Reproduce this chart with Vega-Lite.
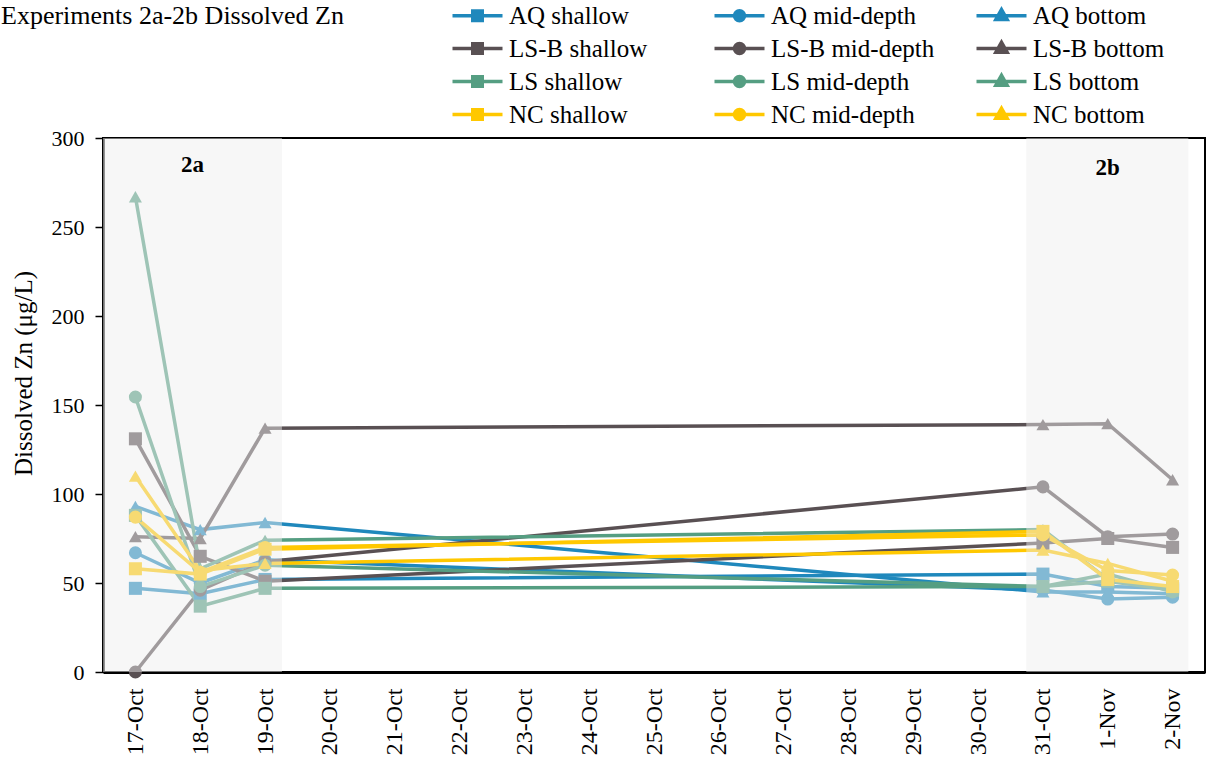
{
  "$schema": "https://vega.github.io/schema/vega-lite/v6.json",
  "width": 1102,
  "height": 534,
  "autosize": {"type": "none"},
  "padding": {"left": 103, "top": 138, "right": 4, "bottom": 95},
  "background": "white",
  "title": {
    "text": "Experiments 2a-2b Dissolved Zn",
    "anchor": "start",
    "frame": "group",
    "font": "Liberation Serif",
    "fontSize": 26,
    "fontWeight": "normal",
    "color": "#000",
    "dx": -102,
    "dy": 32
  },
  "config": {
    "font": "Liberation Serif",
    "view": {"stroke": "#000", "strokeWidth": 2}
  },
  "datasets": {
    "zn": [
      {"date": "2019-10-17", "series": "AQ shallow", "depth": "shallow", "value": 47},
      {"date": "2019-10-18", "series": "AQ shallow", "depth": "shallow", "value": 44},
      {"date": "2019-10-19", "series": "AQ shallow", "depth": "shallow", "value": 52},
      {"date": "2019-10-31", "series": "AQ shallow", "depth": "shallow", "value": 55},
      {"date": "2019-11-01", "series": "AQ shallow", "depth": "shallow", "value": 48},
      {"date": "2019-11-02", "series": "AQ shallow", "depth": "shallow", "value": 47},
      {"date": "2019-10-17", "series": "AQ mid-depth", "depth": "mid-depth", "value": 67},
      {"date": "2019-10-18", "series": "AQ mid-depth", "depth": "mid-depth", "value": 50},
      {"date": "2019-10-19", "series": "AQ mid-depth", "depth": "mid-depth", "value": 63},
      {"date": "2019-10-31", "series": "AQ mid-depth", "depth": "mid-depth", "value": 46},
      {"date": "2019-11-01", "series": "AQ mid-depth", "depth": "mid-depth", "value": 41},
      {"date": "2019-11-02", "series": "AQ mid-depth", "depth": "mid-depth", "value": 42},
      {"date": "2019-10-17", "series": "AQ bottom", "depth": "bottom", "value": 93},
      {"date": "2019-10-18", "series": "AQ bottom", "depth": "bottom", "value": 80},
      {"date": "2019-10-19", "series": "AQ bottom", "depth": "bottom", "value": 84},
      {"date": "2019-10-31", "series": "AQ bottom", "depth": "bottom", "value": 45},
      {"date": "2019-11-01", "series": "AQ bottom", "depth": "bottom", "value": 45},
      {"date": "2019-11-02", "series": "AQ bottom", "depth": "bottom", "value": 44},
      {"date": "2019-10-17", "series": "LS-B shallow", "depth": "shallow", "value": 131},
      {"date": "2019-10-18", "series": "LS-B shallow", "depth": "shallow", "value": 65},
      {"date": "2019-10-19", "series": "LS-B shallow", "depth": "shallow", "value": 51},
      {"date": "2019-10-31", "series": "LS-B shallow", "depth": "shallow", "value": 72.5},
      {"date": "2019-11-01", "series": "LS-B shallow", "depth": "shallow", "value": 75},
      {"date": "2019-11-02", "series": "LS-B shallow", "depth": "shallow", "value": 70},
      {"date": "2019-10-17", "series": "LS-B mid-depth", "depth": "mid-depth", "value": 0},
      {"date": "2019-10-18", "series": "LS-B mid-depth", "depth": "mid-depth", "value": 46},
      {"date": "2019-10-19", "series": "LS-B mid-depth", "depth": "mid-depth", "value": 62},
      {"date": "2019-10-31", "series": "LS-B mid-depth", "depth": "mid-depth", "value": 104},
      {"date": "2019-11-01", "series": "LS-B mid-depth", "depth": "mid-depth", "value": 76},
      {"date": "2019-11-02", "series": "LS-B mid-depth", "depth": "mid-depth", "value": 77.5},
      {"date": "2019-10-17", "series": "LS-B bottom", "depth": "bottom", "value": 76},
      {"date": "2019-10-18", "series": "LS-B bottom", "depth": "bottom", "value": 75},
      {"date": "2019-10-19", "series": "LS-B bottom", "depth": "bottom", "value": 137},
      {"date": "2019-10-31", "series": "LS-B bottom", "depth": "bottom", "value": 139},
      {"date": "2019-11-01", "series": "LS-B bottom", "depth": "bottom", "value": 139.5},
      {"date": "2019-11-02", "series": "LS-B bottom", "depth": "bottom", "value": 108},
      {"date": "2019-10-17", "series": "LS shallow", "depth": "shallow", "value": 88},
      {"date": "2019-10-18", "series": "LS shallow", "depth": "shallow", "value": 37},
      {"date": "2019-10-19", "series": "LS shallow", "depth": "shallow", "value": 47},
      {"date": "2019-10-31", "series": "LS shallow", "depth": "shallow", "value": 48},
      {"date": "2019-11-01", "series": "LS shallow", "depth": "shallow", "value": 51},
      {"date": "2019-11-02", "series": "LS shallow", "depth": "shallow", "value": 46},
      {"date": "2019-10-17", "series": "LS mid-depth", "depth": "mid-depth", "value": 154.5},
      {"date": "2019-10-18", "series": "LS mid-depth", "depth": "mid-depth", "value": 48},
      {"date": "2019-10-19", "series": "LS mid-depth", "depth": "mid-depth", "value": 60},
      {"date": "2019-10-31", "series": "LS mid-depth", "depth": "mid-depth", "value": 48},
      {"date": "2019-11-01", "series": "LS mid-depth", "depth": "mid-depth", "value": 55},
      {"date": "2019-11-02", "series": "LS mid-depth", "depth": "mid-depth", "value": 45},
      {"date": "2019-10-17", "series": "LS bottom", "depth": "bottom", "value": 267},
      {"date": "2019-10-18", "series": "LS bottom", "depth": "bottom", "value": 58},
      {"date": "2019-10-19", "series": "LS bottom", "depth": "bottom", "value": 74},
      {"date": "2019-10-31", "series": "LS bottom", "depth": "bottom", "value": 80},
      {"date": "2019-11-01", "series": "LS bottom", "depth": "bottom", "value": 52},
      {"date": "2019-11-02", "series": "LS bottom", "depth": "bottom", "value": 47},
      {"date": "2019-10-17", "series": "NC shallow", "depth": "shallow", "value": 58},
      {"date": "2019-10-18", "series": "NC shallow", "depth": "shallow", "value": 55},
      {"date": "2019-10-19", "series": "NC shallow", "depth": "shallow", "value": 69},
      {"date": "2019-10-31", "series": "NC shallow", "depth": "shallow", "value": 79},
      {"date": "2019-11-01", "series": "NC shallow", "depth": "shallow", "value": 52},
      {"date": "2019-11-02", "series": "NC shallow", "depth": "shallow", "value": 48},
      {"date": "2019-10-17", "series": "NC mid-depth", "depth": "mid-depth", "value": 87},
      {"date": "2019-10-18", "series": "NC mid-depth", "depth": "mid-depth", "value": 56},
      {"date": "2019-10-19", "series": "NC mid-depth", "depth": "mid-depth", "value": 70},
      {"date": "2019-10-31", "series": "NC mid-depth", "depth": "mid-depth", "value": 77},
      {"date": "2019-11-01", "series": "NC mid-depth", "depth": "mid-depth", "value": 57},
      {"date": "2019-11-02", "series": "NC mid-depth", "depth": "mid-depth", "value": 54.5},
      {"date": "2019-10-17", "series": "NC bottom", "depth": "bottom", "value": 110},
      {"date": "2019-10-18", "series": "NC bottom", "depth": "bottom", "value": 57},
      {"date": "2019-10-19", "series": "NC bottom", "depth": "bottom", "value": 61},
      {"date": "2019-10-31", "series": "NC bottom", "depth": "bottom", "value": 68.5},
      {"date": "2019-11-01", "series": "NC bottom", "depth": "bottom", "value": 61},
      {"date": "2019-11-02", "series": "NC bottom", "depth": "bottom", "value": 51}
    ],
    "phases": [
      {"start": "2019-10-16T12:00:00Z", "end": "2019-10-19T06:15:00Z", "lo": 0, "hi": 300},
      {"start": "2019-10-30T17:50:00Z", "end": "2019-11-02T05:50:00Z", "lo": 0, "hi": 300}
    ],
    "labels": [
      {"date": "2019-10-17T21:08:00Z", "value": 285, "label": "2a"},
      {"date": "2019-11-01T00:00:00Z", "value": 283, "label": "2b"}
    ]
  },
  "encoding": {
    "x": {
      "field": "date",
      "type": "temporal",
      "scale": {
        "type": "utc",
        "domain": [
          {"year": 2019, "month": 10, "date": 16, "hours": 12, "utc": true},
          {"year": 2019, "month": 11, "date": 2, "hours": 12, "utc": true}
        ]
      },
      "axis": {
        "title": null,
        "format": "%-d-%b",
        "tickCount": {"interval": "day", "step": 1},
        "labelAngle": 270,
        "labelFontSize": 24,
        "labelColor": "#000",
        "labelPadding": 16,
        "ticks": false,
        "grid": false,
        "domainColor": "#000",
        "domainWidth": 3,
        "labelOverlap": false,
        "labelFlush": false
      }
    },
    "y": {
      "field": "value",
      "type": "quantitative",
      "scale": {"domain": [0, 300], "nice": false, "zero": true},
      "axis": {
        "title": "Dissolved Zn (μg/L)",
        "titleFontSize": 25,
        "titleFontWeight": "normal",
        "titleColor": "#000",
        "titleX": -80,
        "titleY": 235,
        "titleAlign": "center",
        "titleBaseline": "middle",
        "titleAngle": 270,
        "values": [0, 50, 100, 150, 200, 250, 300],
        "labelFontSize": 22,
        "labelColor": "#000",
        "labelPadding": 11,
        "tickSize": 8,
        "tickColor": "#000",
        "tickWidth": 1.5,
        "grid": false,
        "domainColor": "#000",
        "domainWidth": 2.5
      }
    }
  },
  "layer": [
    {
      "data": {"name": "zn"},
      "mark": {"type": "line", "strokeWidth": 3.5},
      "encoding": {
        "color": {
          "field": "series",
          "type": "nominal",
          "scale": {
            "domain": ["AQ shallow", "AQ mid-depth", "AQ bottom", "LS-B shallow", "LS-B mid-depth", "LS-B bottom", "LS shallow", "LS mid-depth", "LS bottom", "NC shallow", "NC mid-depth", "NC bottom"],
            "range": ["#1f88bc", "#1f88bc", "#1f88bc", "#595053", "#595053", "#595053", "#559e82", "#559e82", "#559e82", "#ffc800", "#ffc800", "#ffc800"]
          },
          "legend": {
            "title": null,
            "orient": "none",
            "direction": "horizontal",
            "legendX": 360,
            "legendY": -137,
            "columns": 3,
            "gridAlign": "all",
            "columnPadding": 34,
            "rowPadding": 5,
            "labelFontSize": 25,
            "labelFont": "Liberation Serif",
            "labelColor": "#000",
            "labelOffset": 17,
            "labelLimit": 400,
            "symbolSize": 625,
            "symbolStrokeWidth": 3.5,
            "padding": 0,
            "encode": {
              "symbols": {
                "update": {
                  "shape": {"signal": "indexof(datum.value,'shallow')>=0 ? 'M-2,0H2M-0.38,-0.38H0.38V0.38H-0.38Z' : (indexof(datum.value,'mid')>=0 ? 'M-2,0H2M-0.4,0A0.4,0.4 0 1,0 0.4,0A0.4,0.4 0 1,0 -0.4,0Z' : 'M-2,0H2M0,-0.5L0.45,0.3H-0.45Z')"},
                  "fill": {"scale": "color", "field": "value"},
                  "stroke": {"scale": "color", "field": "value"},
                  "strokeWidth": {"value": 3.5},
                  "size": {"value": 625},
                  "opacity": {"value": 1},
                  "fillOpacity": {"value": 1}
                }
              }
            }
          }
        },
        "detail": {"field": "series"}
      }
    },
    {
      "data": {"name": "zn"},
      "mark": {"type": "point", "filled": true, "size": 170, "opacity": 1},
      "encoding": {
        "color": {"field": "series", "type": "nominal"},
        "shape": {
          "field": "depth",
          "type": "nominal",
          "scale": {"domain": ["shallow", "mid-depth", "bottom"], "range": ["square", "circle", "triangle-up"]},
          "legend": null
        }
      }
    },
    {
      "data": {"name": "phases"},
      "mark": {"type": "rect", "fill": "#eeeeee", "opacity": 0.48},
      "encoding": {
        "x": {"field": "start", "type": "temporal"},
        "x2": {"field": "end"},
        "y": {"field": "lo", "type": "quantitative"},
        "y2": {"field": "hi"}
      }
    },
    {
      "data": {"name": "labels"},
      "mark": {"type": "text", "font": "Liberation Serif", "fontSize": 23, "fontWeight": "bold", "color": "#000", "align": "center", "baseline": "middle"},
      "encoding": {
        "text": {"field": "label"},
        "y": {"field": "value", "type": "quantitative"}
      }
    }
  ]
}
